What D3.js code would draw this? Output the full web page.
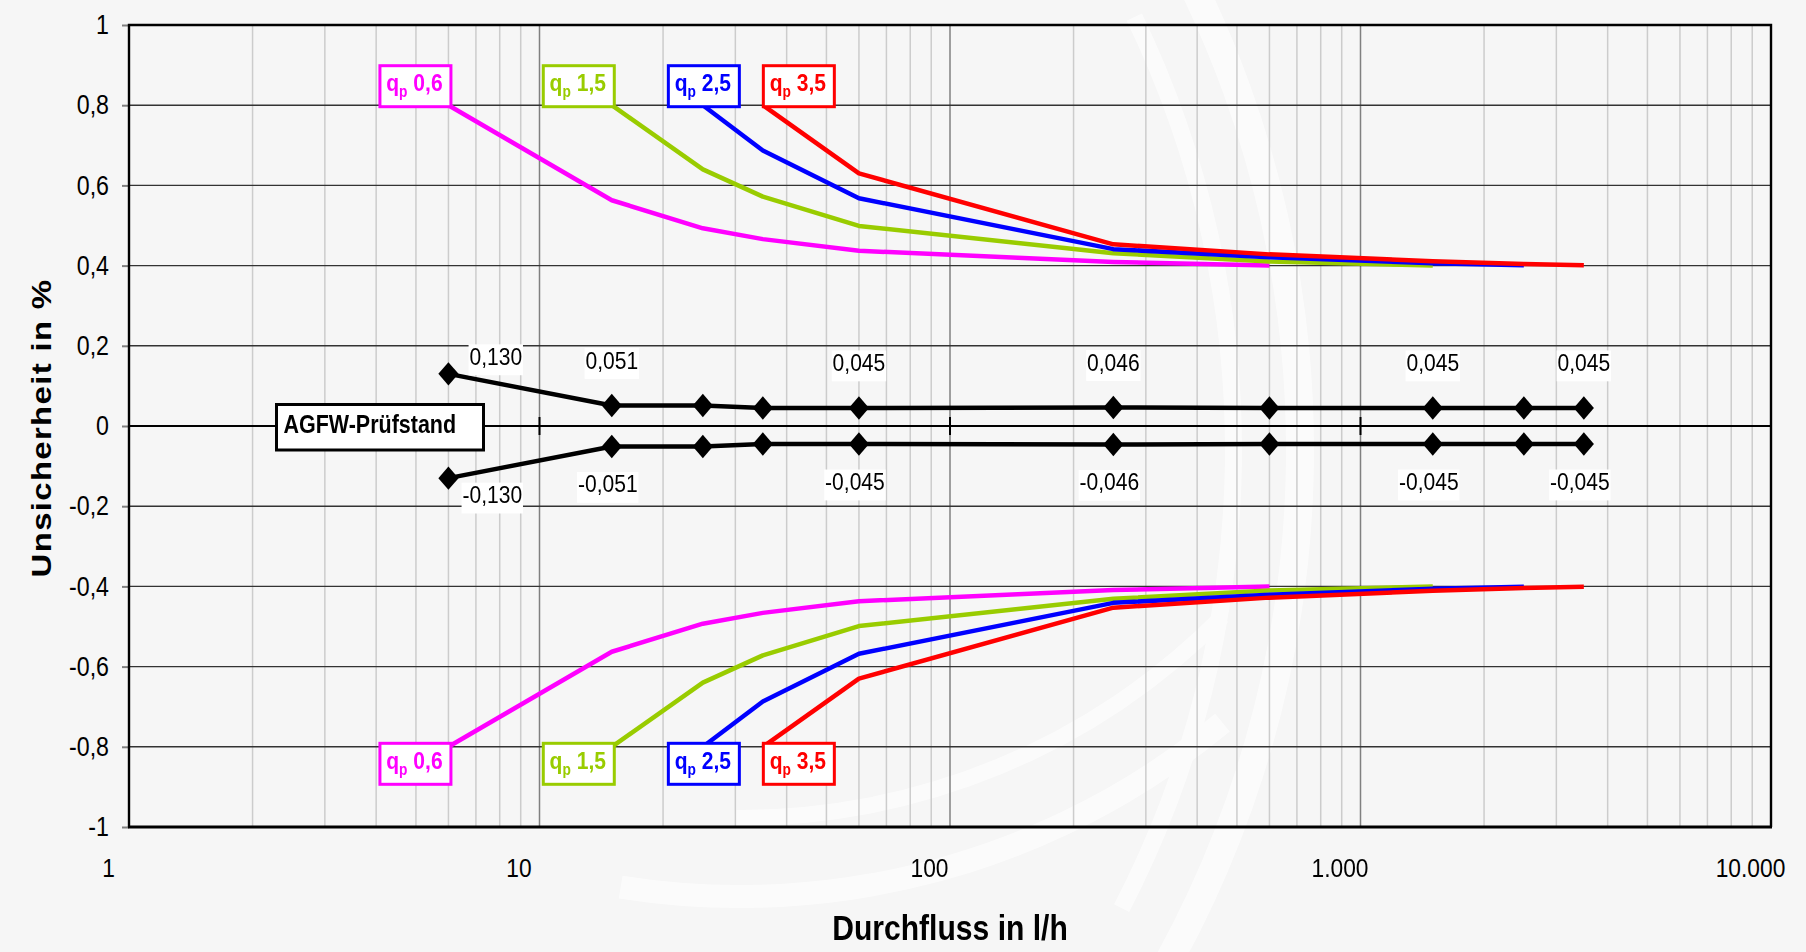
<!DOCTYPE html>
<html>
<head>
<meta charset="utf-8">
<script src="https://cdn.jsdelivr.net/npm/d3@7"></script>
<style>
  html, body { margin: 0; padding: 0; background: #f6f6f6; }
  svg { display: block; }
  text { font-family: "Liberation Sans", Arial, Helvetica, sans-serif; fill: #000; }
</style>
</head>
<body>
<svg id="chart" width="1806" height="952"></svg>
<script>
// ---- data -------------------------------------------------------------
// test flow rates in l/h
const flows = [6, 15, 25, 35, 60, 250, 600, 1500, 2500, 3500];
const xTickValues = [1, 10, 100, 1000, 10000];
const yTickValues = [-1, -0.8, -0.6, -0.4, -0.2, 0, 0.2, 0.4, 0.6, 0.8, 1];

// uncertainty of the AGFW test bench (upper / lower limit) in %
const agfwUpper = [0.130, 0.051, 0.051, 0.045, 0.045, 0.046, 0.045, 0.045, 0.045, 0.045];
const agfwLower = [-0.130, -0.051, -0.051, -0.045, -0.045, -0.046, -0.045, -0.045, -0.045, -0.045];
const agfwLabelled = [6, 15, 60, 250, 1500, 3500];

// meter sizes q_p (m³/h) and the flow range of each curve (q_i ... q_p)
const qpNames = ["0,6", "1,5", "2,5", "3,5"];
const qpFlows = [
  [6, 15, 25, 35, 60, 250, 600],
  [15, 25, 35, 60, 250, 600, 1500],
  [25, 35, 60, 250, 600, 1500, 2500],
  [35, 60, 250, 600, 1500, 2500, 3500]
];
const qpUpper = [
  [0.80, 0.563, 0.493, 0.466, 0.437, 0.409, 0.400],
  [0.80, 0.640, 0.572, 0.499, 0.431, 0.410, 0.400],
  [0.80, 0.687, 0.568, 0.441, 0.421, 0.406, 0.401],
  [0.80, 0.630, 0.453, 0.428, 0.411, 0.404, 0.401]
];
const qpLower = [
  [-0.80, -0.563, -0.493, -0.466, -0.437, -0.409, -0.400],
  [-0.80, -0.640, -0.572, -0.499, -0.431, -0.410, -0.400],
  [-0.80, -0.687, -0.568, -0.441, -0.421, -0.406, -0.401],
  [-0.80, -0.630, -0.453, -0.428, -0.411, -0.404, -0.401]
];

// ---- styling / layout ---------------------------------------------------
const qpColors = ["#ff00ff", "#99cc00", "#0000ff", "#ff0000"];
const qpAlign = ["end", "end", "middle", "start"];   // box placement relative to first point
const SQ = 0.86;                                      // horizontal squeeze of all lettering
const W = 1806, H = 952;
const P = { left: 129, right: 1771, top: 25, bottom: 827 };

const svg = d3.select("#chart");
const x = d3.scaleLog().domain([1, 10000]).range([P.left, P.right]);
const y = d3.scaleLinear().domain([-1, 1]).range([P.bottom, P.top]);

const de = d3.formatLocale({ decimal: ",", thousands: ".", grouping: [3], currency: ["", " €"], minus: "-" });
const fmtX = de.format(",d");
const fmtY = de.format(".1~f");
const fmtV = de.format(".3f");

// background
svg.append("rect").attr("width", W).attr("height", H).attr("fill", "#f6f6f6");

// decorative white arcs in the background
const wm = svg.append("g").attr("fill", "#ffffff").attr("opacity", 0.6);
const band = d3.arc();
wm.append("path")
  .attr("transform", "translate(240,450)")
  .attr("d", band({ innerRadius: 1046, outerRadius: 1074, startAngle: 1.10, endAngle: 2.10 }));
wm.append("path")
  .attr("transform", "translate(240,450)")
  .attr("d", band({ innerRadius: 985, outerRadius: 1002, startAngle: 1.12, endAngle: 2.05 }));
wm.append("path")
  .attr("transform", "translate(740,140)")
  .attr("d", band({ innerRadius: 745, outerRadius: 768, startAngle: 2.45, endAngle: 3.30 }));
wm.append("path")
  .attr("transform", "translate(740,140)")
  .attr("d", band({ innerRadius: 670, outerRadius: 686, startAngle: 2.35, endAngle: 3.15 }));

// ---- grid ---------------------------------------------------------------
const grid = svg.append("g");
const isDecade = v => Math.abs(Math.log10(v) - Math.round(Math.log10(v))) < 1e-9;
grid.selectAll("line.vminor")
  .data(x.ticks().filter(v => !isDecade(v)))
  .join("line")
  .attr("x1", d => x(d)).attr("x2", d => x(d))
  .attr("y1", P.top).attr("y2", P.bottom)
  .attr("stroke", "#cccccc").attr("stroke-width", 1.5);
grid.selectAll("line.vmajor")
  .data(xTickValues.slice(1, -1))
  .join("line")
  .attr("x1", d => x(d)).attr("x2", d => x(d))
  .attr("y1", P.top).attr("y2", P.bottom)
  .attr("stroke", "#808080").attr("stroke-width", 1.5);
grid.selectAll("line.h")
  .data(yTickValues.filter(v => v !== 0 && Math.abs(v) !== 1))
  .join("line")
  .attr("x1", P.left).attr("x2", P.right)
  .attr("y1", d => y(d)).attr("y2", d => y(d))
  .attr("stroke", "#333333").attr("stroke-width", 1.4);

// ---- axes ---------------------------------------------------------------
const yAxis = svg.append("g")
  .attr("transform", `translate(${P.left},0)`)
  .call(d3.axisLeft(y).tickValues(yTickValues).tickSize(7).tickPadding(13).tickFormat(fmtY));
yAxis.select(".domain").remove();
yAxis.selectAll(".tick line").attr("stroke", "#808080").attr("stroke-width", 2);
yAxis.selectAll(".tick text")
  .attr("font-size", 27)
  .attr("x", -20 / SQ)
  .attr("transform", `scale(${SQ},1)`);

const xAxis = svg.append("g")
  .attr("transform", `translate(0,${P.bottom})`)
  .call(d3.axisBottom(x).tickValues(xTickValues).tickSize(0).tickPadding(31).tickFormat(fmtX));
xAxis.select(".domain").remove();
xAxis.selectAll(".tick text")
  .attr("font-size", 26.5)
  .attr("x", -21 / SQ)
  .attr("transform", `scale(${SQ},1)`);

// zero line with crossing ticks at the decades
svg.append("line")
  .attr("x1", P.left).attr("x2", P.right)
  .attr("y1", y(0)).attr("y2", y(0))
  .attr("stroke", "#000").attr("stroke-width", 2.2);
svg.selectAll("line.xcross")
  .data(xTickValues.slice(1, -1))
  .join("line")
  .attr("x1", d => x(d)).attr("x2", d => x(d))
  .attr("y1", y(0) - 9).attr("y2", y(0) + 9)
  .attr("stroke", "#000").attr("stroke-width", 2);

// plot frame
const frame = svg.append("g").attr("stroke", "#000").attr("fill", "none");
frame.append("path")
  .attr("d", `M${P.left},${P.bottom}V${P.top}H${P.right}V${P.bottom}`)
  .attr("stroke-width", 2.4);
frame.append("line")
  .attr("x1", P.left - 1).attr("x2", P.right + 1)
  .attr("y1", P.bottom).attr("y2", P.bottom)
  .attr("stroke-width", 3.2);

// ---- series -------------------------------------------------------------
const line = d3.line().x(d => x(d[0])).y(d => y(d[1]));
const curves = svg.append("g").attr("fill", "none").attr("stroke-width", 4.5)
  .attr("stroke-linejoin", "round").attr("stroke-linecap", "butt");
qpNames.forEach((name, i) => {
  [qpUpper[i], qpLower[i]].forEach(vals => {
    curves.append("path")
      .attr("d", line(d3.zip(qpFlows[i], vals)))
      .attr("stroke", qpColors[i]);
  });
});

// test bench band
const bench = svg.append("g");
[agfwUpper, agfwLower].forEach(vals => {
  const pts = d3.zip(flows, vals);
  bench.append("path")
    .attr("d", line(pts))
    .attr("fill", "none").attr("stroke", "#000").attr("stroke-width", 4.5)
    .attr("stroke-linejoin", "round");
  bench.selectAll(null)
    .data(pts)
    .join("path")
    .attr("d", d3.symbol().type(d3.symbolSquare).size(275)())
    .attr("transform", d => `translate(${x(d[0])},${y(d[1])}) scale(${SQ},1) rotate(45)`)
    .attr("fill", "#000");
});

// value labels of the test bench
function valueLabel(px, py, str, anchor) {
  const g = svg.append("g").attr("transform", `translate(${px},${py}) scale(${SQ},1)`);
  const r = g.append("rect").attr("fill", "#ffffff");
  const t = g.append("text").attr("font-size", 24.5).attr("text-anchor", anchor).text(str);
  const b = t.node().getBBox();
  r.attr("x", b.x - 1).attr("y", b.y + 2).attr("width", b.width + 2).attr("height", b.height + 3);
}
[[agfwUpper, -1], [agfwLower, 1]].forEach(([vals, side]) => {
  flows.forEach((f, i) => {
    if (!agfwLabelled.includes(f)) return;
    const px = x(f), py = y(vals[i]);
    if (i === 0) {
      valueLabel(px + (side < 0 ? 21 : 14), py + (side < 0 ? -9 : 25), fmtV(vals[i]), "start");
    } else {
      valueLabel(px + (side < 0 ? 0 : -4), py + (side < 0 ? -37 : 46), fmtV(vals[i]), "middle");
    }
  });
});

// name box of the test bench
const agfw = svg.append("g");
agfw.append("rect")
  .attr("x", 276.5).attr("y", y(0) - 21.5).attr("width", 207).attr("height", 45.5)
  .attr("fill", "#ffffff").attr("stroke", "#000").attr("stroke-width", 3);
agfw.append("g")
  .attr("transform", `translate(283.5,${y(0) + 6.5}) scale(${SQ},1)`)
  .append("text")
  .attr("font-size", 25).attr("font-weight", "bold")
  .text("AGFW-Prüfstand");

// q_p boxes at the start of each curve
const BOX_W = 74, BOX_H = 44;
qpNames.forEach((name, i) => {
  [[qpUpper[i], -1], [qpLower[i], 1]].forEach(([vals, side]) => {
    const px = x(qpFlows[i][0]), py = y(vals[0]);
    let bx;
    if (qpAlign[i] === "end") bx = px + 4 - BOX_W;
    else if (qpAlign[i] === "middle") bx = px + 1 - BOX_W / 2;
    else bx = px - 1;
    const by = side < 0 ? py - BOX_H + 3 : py - 5;
    const g = svg.append("g");
    g.append("rect")
      .attr("x", bx + 1.5).attr("y", by + 1.5)
      .attr("width", BOX_W - 3).attr("height", BOX_H - 3)
      .attr("fill", "#ffffff").attr("stroke", qpColors[i]).attr("stroke-width", 3);
    const t = g.append("g")
      .attr("transform", `translate(${bx + BOX_W / 2 - 1},${by + 27}) scale(${SQ},1)`)
      .append("text")
      .attr("font-size", 24.5).attr("font-weight", "bold")
      .attr("text-anchor", "middle")
      .style("fill", qpColors[i]);
    t.append("tspan").text("q");
    t.append("tspan").attr("font-size", 16).attr("dy", 6).text("p");
    t.append("tspan").attr("dy", -6).text("\u00a0" + name);
  });
});

// ---- axis titles ----------------------------------------------------------
svg.append("g")
  .attr("transform", `translate(950,940) scale(${SQ},1)`)
  .append("text")
  .attr("font-size", 35).attr("font-weight", "bold").attr("text-anchor", "middle")
  .text("Durchfluss in l/h");
svg.append("g")
  .attr("transform", `translate(51,428) scale(${SQ},1) rotate(-90)`)
  .append("text")
  .attr("font-size", 33).attr("font-weight", "bold").attr("text-anchor", "middle")
  .attr("letter-spacing", 1.3)
  .text("Unsicherheit in %");
</script>
</body>
</html>
